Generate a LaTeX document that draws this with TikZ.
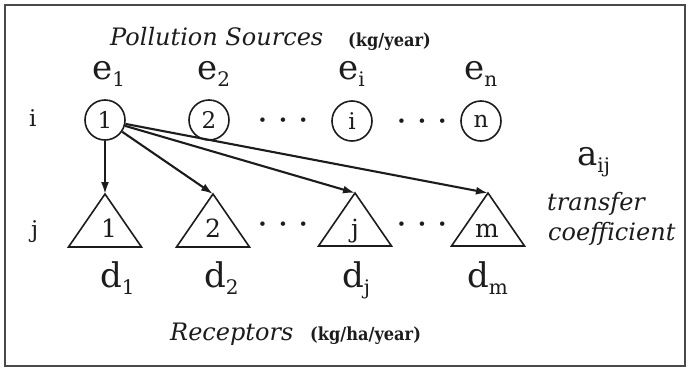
\documentclass[tikz,border=0pt]{standalone}
\usepackage{fontspec}
\setmainfont{DejaVu Serif}
\newfontfamily\condfont{DejaVu Serif Condensed}
\usetikzlibrary{arrows.meta}
\newcommand\withsub[2]{#1\raisebox{-7pt}{\fontsize{20}{20}\selectfont #2}}
\definecolor{ink}{HTML}{1C1C1C}
\begin{document}
\begin{tikzpicture}[x=1pt,y=-1pt,
  every node/.style={text=ink},
  src/.style={circle, draw=ink, line width=1.6pt, minimum size=40pt, inner sep=0pt, font=\fontsize{23}{23}\selectfont},
  txt/.style={anchor=base west, inner sep=0pt},
  big/.style={txt, font=\fontsize{34}{34}\selectfont},
  ital/.style={txt, font=\fontsize{24}{24}\selectfont\itshape},
  unit/.style={txt, font=\fontsize{18}{18}\selectfont\condfont\bfseries},
  idx/.style={txt, font=\fontsize{23}{23}\selectfont},
  tlab/.style={anchor=base, inner sep=0pt, font=\fontsize{25}{25}\selectfont},
  dots/.style={anchor=base, inner sep=0pt, font=\fontsize{24}{24}\selectfont\bfseries},
  tri/.style={draw=ink, line width=1.6pt, line join=miter},
  arr/.style={draw=ink, line width=2.1pt, -{Latex[length=12pt,width=8pt]}},
  frame/.style={draw=ink!80, line width=2.5pt}
]
\useasboundingbox (0,0) rectangle (689,370);
\fill[white] (0,0) rectangle (689,370);
\draw[frame] (5,5) rectangle (685,366);

% headings
\node[ital] (ps) at (110,45) {Pollution Sources};
\node[unit] (psu) at (348,46) {(kg/year)};
\node[ital] (rc) at (170,340) {Receptors};
\node[unit] (rcu) at (310,340) {(kg/ha/year)};

% emission labels
\node[big] (e1) at (92,79) {\withsub{e}{1}};
\node[big] (e2) at (197,79) {\withsub{e}{2}};
\node[big] (ei) at (338,79) {\withsub{e}{i}};
\node[big] (en) at (464,79) {\withsub{e}{n}};

% deposition labels
\node[big] (d1) at (100,287) {\withsub{d}{1}};
\node[big] (d2) at (204,287) {\withsub{d}{2}};
\node[big] (dj) at (342,287) {\withsub{d}{j}};
\node[big] (dm) at (467,287) {\withsub{d}{m}};

% row indices
\node[idx] (ii) at (29,126) {i};
\node[idx] (jj) at (31,237) {j};

% sources
\node[src] (c1) at (105,120) {1};
\node[src] (c2) at (209,120) {2};
\node[src] (ci) at (352,121) {i};
\node[src] (cn) at (481,121) {n};
\node[dots] (dt1) at (283,128) {·\hspace{12pt}·\hspace{12pt}·};
\node[dots] (dt2) at (422,129) {·\hspace{12pt}·\hspace{12pt}·};

% receptors
\coordinate (a1) at (105,194);
\coordinate (a2) at (213,194);
\coordinate (aj) at (355,193);
\coordinate (am) at (488,193);
\draw[tri] (a1) -- ++(-36.5,53) -- ++(73,0) -- cycle;
\draw[tri] (a2) -- ++(-36.5,53) -- ++(73,0) -- cycle;
\draw[tri] (aj) -- ++(-36.5,53) -- ++(73,0) -- cycle;
\draw[tri] (am) -- ++(-36.5,53) -- ++(73,0) -- cycle;
\node[tlab] (t1) at (109,237) {1};
\node[tlab] (t2) at (213,237) {2};
\node[tlab] (tj) at (355,237) {j};
\node[tlab] (tm) at (487,237) {m};
\node[dots] (dt3) at (283,232) {·\hspace{12pt}·\hspace{12pt}·};
\node[dots] (dt4) at (422,232) {·\hspace{12pt}·\hspace{12pt}·};

% transfers
\draw[arr] (c1) -- (a1);
\draw[arr] (c1) -- (a2);
\draw[arr] (c1) -- (aj);
\draw[arr] (c1) -- (am);

% coefficient
\node[big] (aij) at (577,165) {\withsub{a}{ij}};
\node[ital] (tr) at (547,210) {transfer};
\node[ital] (co) at (548,240) {coefficient};
\end{tikzpicture}
\end{document}
